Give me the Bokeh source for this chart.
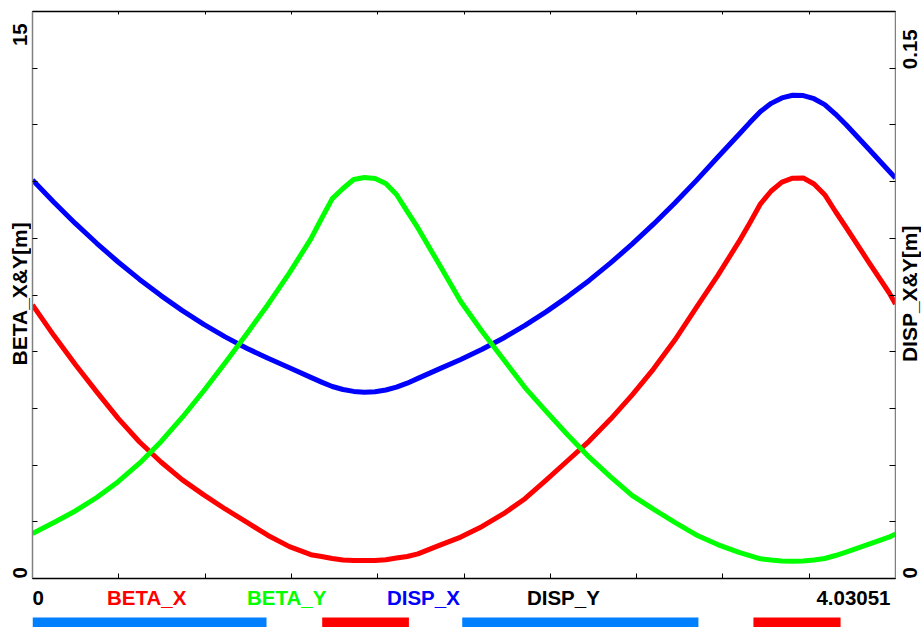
import math
from bokeh.plotting import figure
from bokeh.models import Range1d, LinearAxis, FixedTicker
from bokeh.layouts import column, row
from bokeh.core.properties import value
from bokeh.embed import file_html
from bokeh.resources import INLINE

# ---------------- data ----------------
L = 4.03051
s = [0.0, 0.1, 0.2, 0.3, 0.4, 0.5, 0.6, 0.7, 0.8, 0.9,
     1.0, 1.1, 1.2, 1.3, 1.35, 1.4, 1.45, 1.5, 1.55, 1.6, 1.65, 1.7, 1.75, 1.8, 1.9,
     2.0, 2.1, 2.2, 2.3, 2.4, 2.5, 2.6, 2.7, 2.8, 2.9,
     3.0, 3.1, 3.2, 3.3, 3.35, 3.4, 3.45, 3.5, 3.55, 3.6, 3.65, 3.7, 3.75, 3.8, 3.9,
     4.0, L]
beta_x = [7.24, 6.426, 5.661, 4.937, 4.238, 3.611, 3.082, 2.608, 2.212, 1.839,
          1.489, 1.138, 0.844, 0.630, 0.582, 0.529, 0.489, 0.476, 0.476, 0.476, 0.497, 0.540, 0.582, 0.651, 0.878,
          1.095, 1.378, 1.714, 2.111, 2.608, 3.122, 3.635, 4.217, 4.852, 5.540,
          6.307, 7.169, 8.011, 8.918, 9.405, 9.913, 10.251, 10.487, 10.590, 10.595, 10.437, 10.153, 9.709, 9.286, 8.418,
          7.566, 7.262]
beta_y = [1.190, 1.481, 1.786, 2.143, 2.561, 3.050, 3.619, 4.267, 4.968, 5.709,
          6.471, 7.251, 8.085, 8.984, 9.524, 10.048, 10.317, 10.556, 10.608, 10.582, 10.450, 10.159, 9.712, 9.275, 8.304,
          7.328, 6.534, 5.794, 5.050, 4.415, 3.796, 3.209, 2.688, 2.201, 1.833,
          1.484, 1.153, 0.897, 0.690, 0.606, 0.521, 0.487, 0.466, 0.458, 0.463, 0.487, 0.529, 0.608, 0.701, 0.894,
          1.093, 1.177]
disp_x = [0.10542, 0.09952, 0.09394, 0.08868, 0.08373, 0.07913, 0.07484, 0.07087, 0.06722, 0.06392,
          0.06093, 0.05825, 0.05574, 0.05320, 0.05196, 0.05079, 0.05000, 0.04950, 0.04930, 0.04942, 0.04987, 0.05061, 0.05167, 0.05294, 0.05545,
          0.05796, 0.06063, 0.06362, 0.06696, 0.07061, 0.07458, 0.07886, 0.08349, 0.08844, 0.09373,
          0.09934, 0.10526, 0.11143, 0.11754, 0.12061, 0.12352, 0.12570, 0.12714, 0.12783, 0.12776, 0.12693, 0.12537, 0.12286, 0.12005, 0.11394,
          0.10780, 0.10593]

# lattice elements (bends blue, quadrupoles red)
mag_start = [0.0, 1.353, 2.007, 3.367]
mag_end = [1.093, 1.758, 3.110, 3.774]
mag_color = ["#0080ff", "#ff0000", "#0080ff", "#ff0000"]

legend_names = ["BETA_X", "BETA_Y", "DISP_X", "DISP_Y"]
legend_colors = ["#ff0000", "#00ff00", "#0000ff", "#000000"]

BETA_MAX = 15.0
DISP_MAX = 0.15
beta_ticks = [i * BETA_MAX / 10 for i in range(11)]
disp_ticks = [i * DISP_MAX / 10 for i in range(11)]
s_ticks = [i * L / 10 for i in range(11)]

FONT = value("Liberation Sans")
FS = "20.5px"
TFS = "21px"
ROT = math.pi / 2

common = dict(output_backend="svg", toolbar_location=None,
              x_axis_type=None, y_axis_type=None)

# layout (pixels)
TOP, FRAME_H, BOT = 11, 567, 2
LEFT_W, RIGHT_W = 31, 25

# ---------------- main plot ----------------
beta_range = Range1d(0, BETA_MAX)
disp_range = Range1d(0, DISP_MAX)
s_range = Range1d(0, L)

p = figure(width=865, height=TOP + FRAME_H + BOT, x_range=s_range, y_range=beta_range,
           min_border_left=1, min_border_right=1, min_border_top=TOP, min_border_bottom=BOT,
           **common)
p.extra_y_ranges = {"disp": disp_range}
p.outline_line_color = None


def make_axis(ticks, line_color, tick_in, **kw):
    ax = LinearAxis(ticker=FixedTicker(ticks=ticks), **kw)
    ax.axis_line_color = line_color
    ax.axis_line_width = 1.5
    ax.major_tick_in = tick_in
    ax.major_tick_out = 0
    ax.minor_tick_in = 0
    ax.minor_tick_out = 0
    ax.major_tick_line_color = "black"
    ax.major_tick_line_width = 1
    ax.major_label_text_font_size = "0px"
    ax.major_label_text_color = None
    ax.major_label_standoff = 0
    return ax


p.add_layout(make_axis(beta_ticks, "#808080", 5), "left")
p.add_layout(make_axis(disp_ticks, "#808080", 6, y_range_name="disp"), "right")
p.add_layout(make_axis(s_ticks, "#000000", 5), "below")
p.add_layout(make_axis(s_ticks, "#000000", 3), "above")

p.line(s, beta_x, line_color="#ff0000", line_width=5, line_join="round")
p.line(s, disp_x, line_color="#0000ff", line_width=5, line_join="round", y_range_name="disp")
p.line(s, beta_y, line_color="#00ff00", line_width=5, line_join="round")

txt = dict(text_font=FONT, text_font_style="bold", text_color="black",
           text_baseline="middle", angle=ROT)


def strip_range(vmax):
    # same vertical scale as the main frame, but covering the whole strip height
    per_px = vmax / FRAME_H
    return Range1d(-BOT * per_px, vmax + TOP * per_px)


# ---------------- left strip (tick ends + axis title) ----------------
pl = figure(width=LEFT_W, height=TOP + FRAME_H + BOT, x_range=Range1d(0, LEFT_W),
            y_range=strip_range(BETA_MAX),
            min_border_left=0, min_border_right=0, min_border_top=0, min_border_bottom=0,
            **common)
pl.outline_line_color = None
pl.text(x=[19.4], y=[BETA_MAX], text=["15"], text_align="right", y_offset=1,
        text_font_size=FS, **txt)
pl.text(x=[19.4], y=[0.0], text=["0"], text_align="left", y_offset=2,
        text_font_size=FS, **txt)
pl.text(x=[19.1], y=[7.65], text=["BETA_X&Y[m]"], text_align="center", text_font_size=TFS, **txt)

# ---------------- right strip ----------------
pr = figure(width=RIGHT_W, height=TOP + FRAME_H + BOT, x_range=Range1d(0, RIGHT_W),
            y_range=strip_range(DISP_MAX),
            min_border_left=0, min_border_right=0, min_border_top=0, min_border_bottom=0,
            **common)
pr.outline_line_color = None
pr.text(x=[13.4], y=[DISP_MAX], text=["0.15"], text_align="right", y_offset=7,
        text_font_size=FS, **txt)
pr.text(x=[13.4], y=[0.0], text=["0"], text_align="left", y_offset=2,
        text_font_size=FS, **txt)
pr.text(x=[13.1], y=[0.0765], text=["DISP_X&Y[m]"], text_align="center", text_font_size=TFS, **txt)

# ---------------- lattice / legend strip ----------------
pb = figure(width=921, height=47, x_range=s_range, y_range=Range1d(0, 47),
            min_border_left=32, min_border_right=26, min_border_top=0, min_border_bottom=0,
            **common)
pb.outline_line_color = None
pb.quad(left=mag_start, right=mag_end, bottom=0, top=10,
        fill_color=mag_color, line_color=None)

legend_x = [L * (0.0863 + i * 0.1622) for i in range(len(legend_names))]
pb.text(x=[0.0] + legend_x, y=30, text=["0"] + legend_names,
        text_color=["#000000"] + legend_colors,
        text_font=FONT, text_font_style="bold", text_font_size=FS,
        text_align="left", text_baseline="middle")
pb.text(x=[L], y=30, text=["4.03051"], text_color="#000000", x_offset=-5,
        text_font=FONT, text_font_style="bold", text_font_size=FS,
        text_align="right", text_baseline="middle")

layout = column(row(pl, p, pr, spacing=0), pb, spacing=0)
open("out.html", "w").write(file_html(layout, INLINE))
